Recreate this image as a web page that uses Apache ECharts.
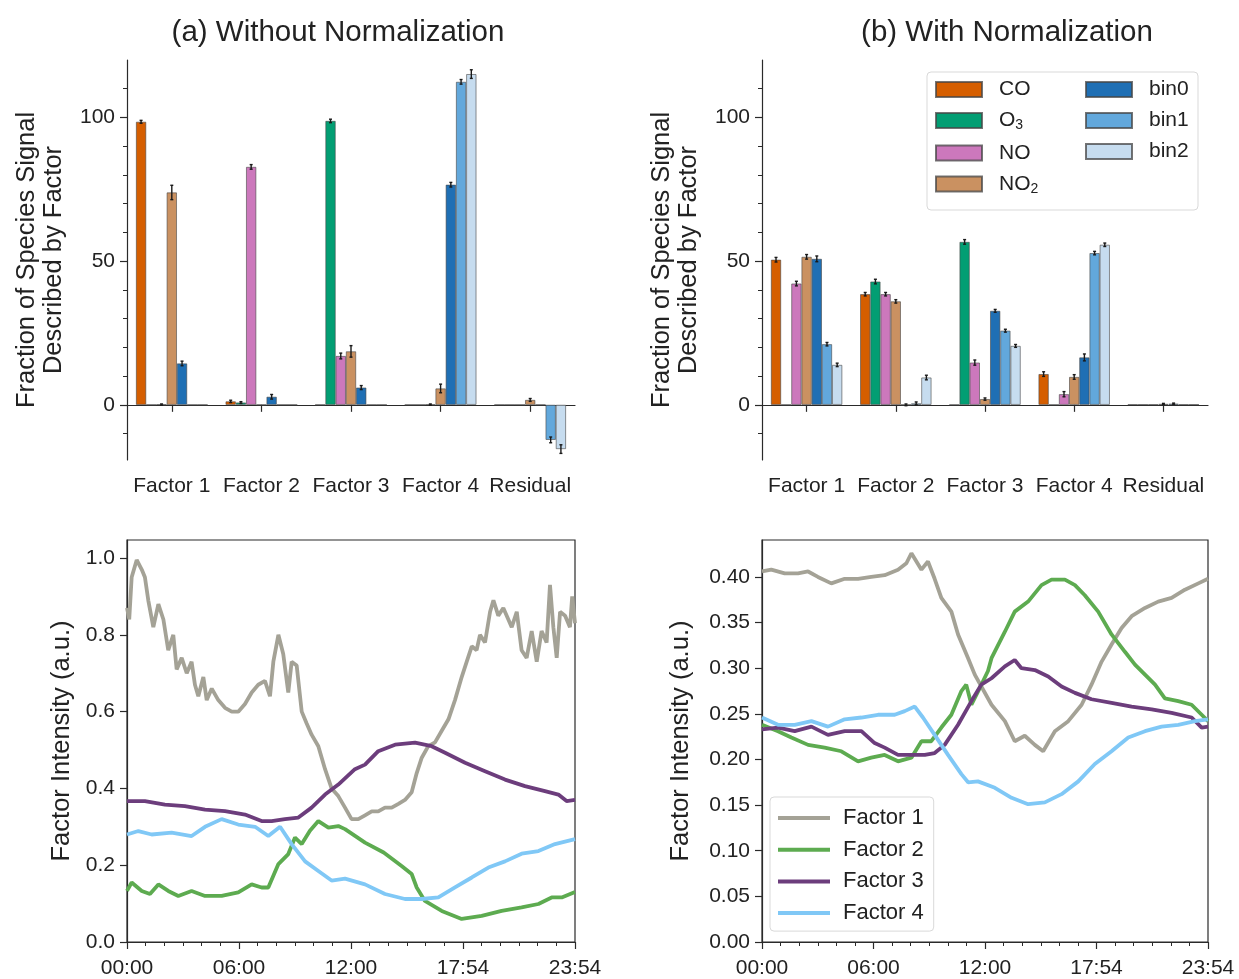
<!DOCTYPE html>
<html><head><meta charset="utf-8">
<script src="https://cdn.jsdelivr.net/npm/echarts@6/dist/echarts.min.js"></script>
<style>html,body{margin:0;padding:0;background:#fff}#c{width:1239px;height:979px}</style>
</head><body><div id="c"></div>
<script>
// ---------- DATA ----------
const factors = ['Factor 1', 'Factor 2', 'Factor 3', 'Factor 4', 'Residual'];
const species = ['CO', 'O3', 'NO', 'NO2', 'bin0', 'bin1', 'bin2'];

// (a) Without Normalization: value per factor for each species
const rawCO   = [98.5, 1.2, 0, 0, 0];
const rawO3   = [0, 0.8, 98.8, 0, 0];
const rawNO   = [0.1, 82.8, 17.0, 0.1, 0];
const rawNO2  = [73.9, 0, 18.6, 5.7, 1.7];
const rawBin0 = [14.4, 2.8, 6.0, 76.6, 0];
const rawBin1 = [0, 0, 0, 112.4, -12.2];
const rawBin2 = [0, 0, 0, 115.1, -15.4];
const rawErrCO   = [0.5, 0.4, 0, 0, 0];
const rawErrO3   = [0, 0.3, 0.6, 0, 0];
const rawErrNO   = [0.2, 0.8, 1.0, 0.2, 0];
const rawErrNO2  = [2.5, 0, 2.0, 1.5, 0.5];
const rawErrBin0 = [0.8, 0.8, 0.7, 0.8, 0];
const rawErrBin1 = [0, 0, 0, 0.8, 1.0];
const rawErrBin2 = [0, 0, 0, 1.5, 1.5];

// (b) With Normalization
const normCO   = [50.5, 38.5, 0, 10.7, 0.1];
const normO3   = [0, 42.9, 56.7, 0, 0.1];
const normNO   = [42.2, 38.5, 14.7, 3.7, 0.1];
const normNO2  = [51.5, 36.0, 2.0, 9.7, 0.3];
const normBin0 = [50.8, 0, 32.7, 16.5, 0.4];
const normBin1 = [21.1, 0.5, 25.8, 52.8, 0.1];
const normBin2 = [13.9, 9.5, 20.5, 55.7, 0.1];
const normErrCO   = [0.8, 0.6, 0, 0.8, 0];
const normErrO3   = [0, 0.8, 0.8, 0, 0];
const normErrNO   = [0.8, 0.6, 0.9, 0.9, 0];
const normErrNO2  = [0.8, 0.6, 0.4, 0.8, 0.2];
const normErrBin0 = [1.0, 0.3, 0.5, 1.2, 0.2];
const normErrBin1 = [0.6, 0.5, 0.5, 0.6, 0];
const normErrBin2 = [0.6, 0.8, 0.5, 0.6, 0];

// tick labels
const barMajorTicks = [0, 50, 100];
const barMinorTicks = [-10, 10, 20, 30, 40, 60, 70, 80, 90, 110];
const timeLabels = ['00:00', '06:00', '12:00', '17:54', '23:54'];
const timeTickHours = [0, 6, 12, 18, 24];
const leftIntensityTicks = [0, 0.2, 0.4, 0.6, 0.8, 1.0];
const rightIntensityTicks = [0, 0.05, 0.1, 0.15, 0.2, 0.25, 0.3, 0.35, 0.4];
const lineNames = ['Factor 1', 'Factor 2', 'Factor 3', 'Factor 4'];

// time series [hour, intensity] — (a) Without Normalization
const f1a = [[0,0.87],[0.12,0.84],[0.25,0.95],[0.52,0.995],[0.79,0.97],[0.96,0.95],[1.14,0.89],[1.41,0.82],[1.68,0.88],[1.95,0.84],[2.21,0.76],[2.48,0.80],[2.66,0.71],[2.93,0.74],[3.2,0.70],[3.46,0.73],[3.64,0.67],[3.82,0.64],[4.09,0.69],[4.27,0.63],[4.54,0.66],[4.89,0.63],[5.25,0.61],[5.61,0.60],[5.96,0.60],[6.32,0.62],[6.68,0.65],[7.03,0.67],[7.39,0.68],[7.66,0.64],[7.84,0.73],[8.11,0.80],[8.37,0.75],[8.64,0.65],[8.82,0.73],[9.09,0.72],[9.36,0.60],[9.62,0.57],[9.89,0.54],[10.25,0.51],[10.61,0.45],[10.96,0.40],[11.32,0.38],[11.68,0.35],[12.03,0.32],[12.39,0.32],[12.75,0.33],[13.11,0.34],[13.46,0.34],[13.82,0.35],[14.18,0.35],[14.54,0.36],[14.89,0.37],[15.25,0.39],[15.52,0.44],[15.79,0.48],[16.14,0.51],[16.5,0.52],[16.86,0.55],[17.22,0.58],[17.57,0.63],[17.93,0.69],[18.2,0.73],[18.47,0.77],[18.73,0.76],[18.91,0.80],[19.18,0.78],[19.45,0.86],[19.63,0.89],[19.89,0.85],[20.16,0.87],[20.43,0.84],[20.61,0.82],[20.88,0.86],[21.14,0.76],[21.41,0.74],[21.68,0.81],[21.95,0.73],[22.21,0.81],[22.48,0.78],[22.66,0.93],[22.84,0.82],[23.02,0.74],[23.2,0.86],[23.47,0.85],[23.73,0.82],[23.85,0.90],[24,0.83]];
const f2a = [[0,0.133],[0.25,0.155],[0.79,0.133],[1.23,0.125],[1.68,0.15],[2.21,0.133],[2.75,0.12],[3.46,0.133],[4.18,0.12],[5.07,0.12],[5.96,0.129],[6.68,0.15],[7.21,0.142],[7.57,0.142],[8.11,0.203],[8.64,0.229],[9.0,0.272],[9.36,0.255],[9.8,0.29],[10.25,0.315],[10.79,0.298],[11.32,0.302],[11.68,0.294],[12.75,0.259],[13.75,0.233],[14.71,0.198],[15.25,0.177],[15.52,0.142],[15.96,0.107],[16.86,0.081],[17.93,0.06],[19.0,0.068],[20.07,0.081],[21.14,0.09],[22.04,0.099],[22.75,0.116],[23.29,0.116],[24,0.13]];
const f3a = [[0,0.367],[0.96,0.367],[2.03,0.358],[3.1,0.354],[4.18,0.345],[5.25,0.341],[6.32,0.332],[7.21,0.315],[7.75,0.315],[8.46,0.32],[9.18,0.324],[9.89,0.35],[10.61,0.384],[11.32,0.41],[12.21,0.45],[12.75,0.462],[13.46,0.497],[14.36,0.514],[15.43,0.519],[16.32,0.51],[17.04,0.493],[18.11,0.467],[19.18,0.445],[20.25,0.423],[21.32,0.406],[22.39,0.393],[23.11,0.384],[23.55,0.367],[24,0.37]];
const f4a = [[0,0.28],[0.61,0.289],[1.32,0.28],[2.39,0.285],[3.46,0.276],[4.18,0.30],[5.07,0.32],[5.96,0.306],[6.86,0.30],[7.57,0.276],[8.2,0.30],[8.82,0.255],[9.54,0.21],[10.25,0.185],[10.96,0.16],[11.68,0.165],[12.75,0.15],[13.82,0.125],[14.89,0.112],[15.79,0.112],[16.68,0.116],[17.57,0.142],[18.47,0.168],[19.36,0.194],[20.25,0.21],[21.14,0.23],[22.04,0.237],[22.93,0.255],[24,0.268]];

// time series [hour, intensity] — (b) With Normalization
const f1b = [[0,0.406],[0.5,0.408],[1.22,0.404],[1.94,0.404],[2.48,0.406],[3.01,0.40],[3.73,0.393],[4.45,0.398],[5.17,0.398],[5.88,0.40],[6.6,0.402],[7.32,0.408],[7.77,0.415],[8.04,0.426],[8.58,0.408],[8.93,0.417],[9.29,0.398],[9.65,0.377],[10.19,0.362],[10.55,0.337],[11.09,0.311],[11.45,0.293],[12.35,0.26],[13.07,0.242],[13.6,0.22],[14.14,0.226],[14.68,0.216],[15.13,0.209],[15.76,0.231],[16.48,0.242],[17.2,0.26],[17.73,0.282],[18.27,0.307],[18.81,0.326],[19.35,0.344],[19.89,0.357],[20.61,0.366],[21.32,0.373],[22.04,0.377],[22.76,0.386],[23.48,0.393],[24,0.398]];
const f2b = [[0,0.238],[0.86,0.231],[1.58,0.224],[2.48,0.216],[3.37,0.213],[4.27,0.209],[5.17,0.198],[5.88,0.202],[6.6,0.205],[7.32,0.198],[8.04,0.202],[8.58,0.22],[9.11,0.22],[9.65,0.235],[10.19,0.249],[10.73,0.275],[10.99,0.282],[11.27,0.26],[11.71,0.278],[12.16,0.297],[12.35,0.311],[13.07,0.34],[13.6,0.362],[14.32,0.373],[15.04,0.391],[15.58,0.397],[16.3,0.397],[16.84,0.391],[17.37,0.38],[18.09,0.362],[18.81,0.337],[19.53,0.318],[20.07,0.304],[20.61,0.293],[21.15,0.282],[21.68,0.267],[22.4,0.264],[23.12,0.26],[23.66,0.249],[24,0.242]];
const f3b = [[0,0.233],[0.86,0.235],[1.76,0.231],[2.66,0.236],[3.55,0.227],[4.45,0.231],[5.35,0.231],[6.06,0.218],[6.6,0.213],[7.32,0.205],[8.04,0.205],[8.76,0.205],[9.29,0.207],[9.83,0.216],[10.55,0.238],[11.27,0.264],[11.8,0.282],[12.35,0.289],[13.07,0.302],[13.6,0.309],[13.96,0.30],[14.68,0.298],[15.4,0.291],[16.12,0.28],[16.84,0.273],[17.73,0.266],[18.81,0.262],[19.89,0.258],[20.97,0.255],[22.04,0.251],[23.12,0.246],[23.66,0.235],[24,0.236]];
const f4b = [[0,0.246],[0.86,0.238],[1.76,0.238],[2.66,0.242],[3.55,0.236],[4.45,0.244],[5.35,0.246],[6.24,0.249],[7.14,0.249],[7.68,0.253],[8.22,0.258],[8.66,0.246],[9.29,0.227],[10.01,0.205],[10.73,0.184],[11.09,0.175],[11.62,0.176],[12.53,0.169],[13.43,0.158],[14.32,0.151],[15.22,0.153],[16.12,0.162],[17.02,0.176],[17.91,0.195],[18.81,0.209],[19.71,0.224],[20.61,0.231],[21.5,0.236],[22.4,0.238],[23.3,0.242],[24,0.244]];

// ---------- STYLE ----------
const FONT = '"Liberation Sans", Arial, Helvetica, sans-serif';
const TXT = '#222';
const AX = '#2a2a2a';
const speciesColors = ['#d55e00', '#029e73', '#cc78bc', '#ca9161', '#1f6fb4', '#62a8dc', '#c6dcef'];
const lineColors = ['#a4a296', '#5dab50', '#6c3d7c', '#80c8f6'];

const rawVals = [rawCO, rawO3, rawNO, rawNO2, rawBin0, rawBin1, rawBin2];
const rawErrs = [rawErrCO, rawErrO3, rawErrNO, rawErrNO2, rawErrBin0, rawErrBin1, rawErrBin2];
const normVals = [normCO, normO3, normNO, normNO2, normBin0, normBin1, normBin2];
const normErrs = [normErrCO, normErrO3, normErrNO, normErrNO2, normErrBin0, normErrBin1, normErrBin2];

const CAT_GAP = 0.2;
const grids = [
  { left: 127, top: 60, width: 448, height: 400 },
  { left: 762, top: 60, width: 446, height: 400 },
  { left: 127, top: 540, width: 448, height: 403, show: true, borderColor: AX, borderWidth: 1.2 },
  { left: 762, top: 540, width: 446, height: 403, show: true, borderColor: AX, borderWidth: 1.2 }
];

const axisLine = { show: true, lineStyle: { color: AX, width: 1.2 } };
const labelStyle = { fontSize: 21, color: TXT, fontFamily: FONT };
const nameStyle = { fontSize: 25.5, color: TXT, fontFamily: FONT, lineHeight: 27 };

const xAxes = [0, 1].map(g => ({
  type: 'category', gridIndex: g, data: factors,
  axisLine, axisTick: { show: true, alignWithLabel: true, length: 7, lineStyle: { color: AX, width: 1.2 } },
  axisLabel: Object.assign({ margin: 16, interval: 0 }, labelStyle),
  splitLine: { show: false }
})).concat([2, 3].map(g => ({
  type: 'value', gridIndex: g, min: 0, max: 24, interval: 6,
  axisLine, axisTick: { show: true, length: 7, lineStyle: { color: AX, width: 1.2 } },
  minorTick: { show: true, splitNumber: 6, length: 4, lineStyle: { color: AX, width: 1 } },
  axisLabel: Object.assign({ margin: 16, formatter: v => timeLabels[timeTickHours.indexOf(v)] || '' }, labelStyle),
  splitLine: { show: false }, minorSplitLine: { show: false }
})));

function barY(g, gap) {
  return [{
    type: 'value', gridIndex: g, position: 'left', min: -19.2, max: 120,
    name: 'Fraction of Species Signal\nDescribed by Factor', nameLocation: 'middle', nameGap: gap, nameTextStyle: nameStyle,
    axisLine, axisTick: { show: true, length: 7, customValues: barMajorTicks, lineStyle: { color: AX, width: 1.2 } },
    axisLabel: Object.assign({ margin: 12, customValues: barMajorTicks }, labelStyle),
    splitLine: { show: false }
  }, {
    type: 'value', gridIndex: g, position: 'left', offset: 0, min: -19.2, max: 120,
    axisLine: { show: false },
    axisTick: { show: true, length: 4, customValues: barMinorTicks, lineStyle: { color: AX, width: 1 } },
    axisLabel: { show: false }, splitLine: { show: false }
  }];
}
function lineY(g, max, ticks, digits, gap) {
  return {
    type: 'value', gridIndex: g, min: 0, max: max,
    name: 'Factor Intensity (a.u.)', nameLocation: 'middle', nameGap: gap, nameTextStyle: nameStyle,
    axisLine, axisTick: { show: true, length: 7, customValues: ticks, lineStyle: { color: AX, width: 1.2 } },
    axisLabel: Object.assign({ margin: 12, customValues: ticks, formatter: v => v.toFixed(digits) }, labelStyle),
    splitLine: { show: false }
  };
}
const yAxes = barY(0, 60).concat(barY(1, 60)).concat([
  lineY(2, 1.047, leftIntensityTicks, 1, 52),
  lineY(3, 0.4405, rightIntensityTicks, 2, 68)
]);

const series = [];
[[rawVals, 0, 0], [normVals, 1, 2]].forEach(([vals, xi, yi]) => {
  vals.forEach((arr, i) => {
    series.push({
      type: 'bar', name: species[i], xAxisIndex: xi, yAxisIndex: yi, data: arr,
      barGap: '0%', barCategoryGap: (CAT_GAP * 100) + '%',
      itemStyle: { color: speciesColors[i], borderColor: 'rgba(70,70,70,0.75)', borderWidth: 0.8 },
      emphasis: { disabled: true }, animation: false
    });
  });
});

function errRender(params, api) {
  const c = api.value(0), s = api.value(1), v = api.value(2), e = api.value(3);
  const band = api.size([1, 0])[0];
  const bw = band * (1 - CAT_GAP) / species.length;
  const top = api.coord([c, v + e]);
  const bot = api.coord([c, v - e]);
  const x = top[0] + (s - (species.length - 1) / 2) * bw;
  const st = { stroke: '#1a1a1a', lineWidth: 1.4 };
  return { type: 'group', children: [
    { type: 'line', shape: { x1: x, y1: top[1], x2: x, y2: bot[1] }, style: st },
    { type: 'line', shape: { x1: x - 1.5, y1: top[1], x2: x + 1.5, y2: top[1] }, style: st },
    { type: 'line', shape: { x1: x - 1.5, y1: bot[1], x2: x + 1.5, y2: bot[1] }, style: st }
  ] };
}
[[rawVals, rawErrs, 0, 0], [normVals, normErrs, 1, 2]].forEach(([vals, errs, xi, yi]) => {
  const data = [];
  vals.forEach((arr, s) => arr.forEach((v, c) => { if (errs[s][c] > 0) data.push([c, s, v, errs[s][c]]); }));
  series.push({
    type: 'custom', xAxisIndex: xi, yAxisIndex: yi, renderItem: errRender, data: data,
    encode: { x: 0, y: 2 }, z: 5, silent: true, animation: false
  });
});

[[f1a, f2a, f3a, f4a], [f1b, f2b, f3b, f4b]].forEach((set, k) => {
  set.forEach((d, i) => {
    series.push({
      type: 'line', name: lineNames[i], xAxisIndex: 2 + k, yAxisIndex: 4 + k, data: d,
      symbol: 'none', lineStyle: { color: lineColors[i], width: 3.8 }, itemStyle: { color: lineColors[i] },
      emphasis: { disabled: true }, animation: false, z: 3 + i
    });
  });
});

const legendRich = {
  n: { fontSize: 21, lineHeight: 24, color: TXT, fontFamily: FONT },
  s: { fontSize: 14, verticalAlign: 'bottom', color: TXT, fontFamily: FONT }
};
function legendFmt(name) {
  if (name === 'O3') return '{n|O}{s|3}';
  if (name === 'NO2') return '{n|NO}{s|2}';
  return '{n|' + name + '}';
}
const barLegendBase = {
  orient: 'vertical', icon: 'rect', itemWidth: 46, itemHeight: 15, itemGap: 10,
  formatter: legendFmt, textStyle: { rich: legendRich, padding: [0, 0, 0, 12] },
  selectedMode: false, padding: 0
};

const option = {
  backgroundColor: '#fff',
  animation: false,
  textStyle: { fontFamily: FONT },
  title: [
    { text: '(a) Without Normalization', left: 333, top: 13, textAlign: 'center', textStyle: { fontSize: 29.5, fontWeight: 'normal', color: TXT, fontFamily: FONT } },
    { text: '(b) With Normalization', left: 1002, top: 13, textAlign: 'center', textStyle: { fontSize: 29.5, fontWeight: 'normal', color: TXT, fontFamily: FONT } }
  ],
  grid: grids,
  xAxis: xAxes,
  yAxis: yAxes,
  legend: [
    Object.assign({ data: ['CO', 'O3', 'NO', 'NO2'], left: 935, top: 79 }, barLegendBase),
    Object.assign({ data: ['bin0', 'bin1', 'bin2'], left: 1085, top: 79 }, barLegendBase),
    {
      data: lineNames, orient: 'vertical', left: 770, top: 797, icon: 'rect', itemWidth: 52, itemHeight: 4, itemGap: 9.7,
      textStyle: { fontSize: 22, lineHeight: 20, color: TXT, fontFamily: FONT, padding: [0, 0, 0, 8] },
      borderColor: '#d9d9d9', borderWidth: 1, borderRadius: 4, padding: [10, 10, 7, 8], backgroundColor: 'rgba(255,255,255,0.85)',
      selectedMode: false
    }
  ],
  graphic: [
    { type: 'rect', shape: { x: 927, y: 72, width: 271, height: 138, r: 4 }, style: { fill: 'rgba(255,255,255,0.85)', stroke: '#d9d9d9', lineWidth: 1 }, z: 1, silent: true }
  ],
  series: series
};

const chart = echarts.init(document.getElementById('c'), null, { renderer: 'canvas' });
chart.setOption(option);
</script>
</body></html>
